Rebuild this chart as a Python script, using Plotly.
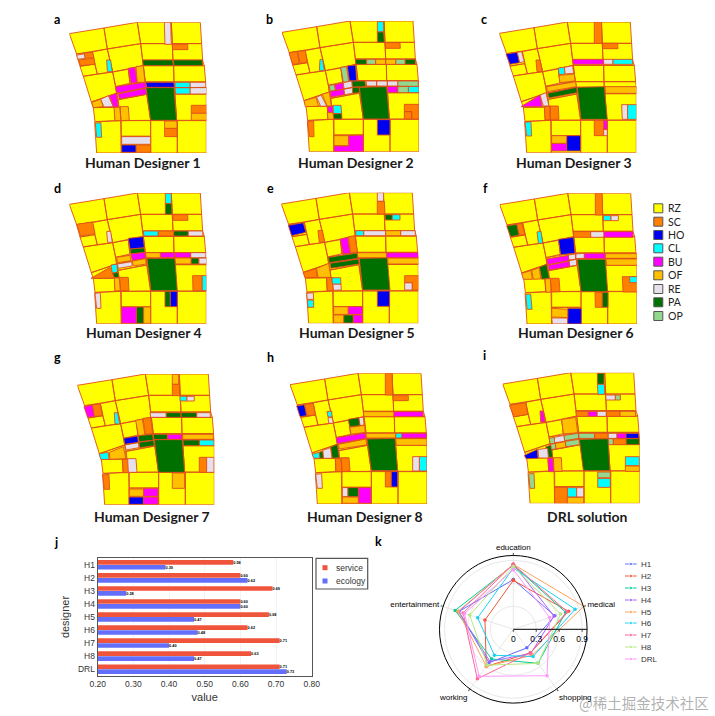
import plotly.graph_objects as go

W, H = 715, 716
LAND_CODES = ["RZ", "SC", "HO", "CL", "BU", "OF", "RE", "PA", "OP"]
LAND_COLORS = {"RZ": "#ffff00", "SC": "#ff8000", "HO": "#0000f0", "CL": "#00ffff", "BU": "#ff00ff",
               "OF": "#ffc000", "RE": "#e6e0ec", "PA": "#007000", "OP": "#92d88e"}
EDGE = "#de5018"

BASE_BLOCKS = [
    (36,67,140,50,150,113,58,128), (140,50,240,33,250,97,150,113), (240,33,342,33,345,97,250,97),
    (342,33,429,33,433,97,345,97), (250,97,345,97,347,147,256,147), (345,97,433,97,436,147,347,147),
    (256,147,347,147,349,163,258,163), (347,147,436,147,441,163,349,163), (258,163,349,163,350,212,264,212),
    (349,163,441,163,445,212,350,212), (264,212,350,212,351,229,267,229), (350,212,445,212,447,229,351,229),
    (351,229,447,229,447,248,353,248), (267,229,351,229,358,327,280,327), (353,248,447,248,447,327,358,327),
    (58,128,105,122,112,158,68,165), (68,165,112,158,120,188,78,195), (105,122,150,113,166,182,120,188),
    (150,113,250,97,258,163,166,182), (78,195,166,182,175,226,178,246,102,272), (166,182,213,174,218,216,175,226),
    (213,174,258,163,264,212,218,216), (175,226,264,212,267,229,178,246), (178,246,267,229,268,249,183,265),
    (102,272,178,246,183,288,108,289), (183,265,268,249,280,327,188,328), (108,289,172,288,174,328,113,331),
    (172,288,188,288,191,328,174,328), (112,332,190,328,192,425,118,425), (192,328,280,328,280,375,192,375),
    (192,375,280,375,280,425,192,425), (280,328,360,328,360,425,280,425), (360,328,447,328,447,425,360,425),
]
BASE_ORIGIN = (36, 33)

PATCHES_A = [
    ("RE",343,52,362,52,364,118,345,118), ("SC",367,118,413,118,414,134,368,134),
    ("PA",278,165,368,165,370,182,280,182), ("PA",370,165,457,165,458,182,372,182),
    ("RE",80,150,103,147,106,160,83,163), ("SC",103,145,128,142,132,158,106,160), ("SC",85,165,132,160,135,178,92,182),
    ("CL",170,165,182,165,187,200,172,200), ("BU",235,190,255,187,262,232,243,235), ("OF",258,185,280,182,285,232,262,232),
    ("BU",197,245,285,232,288,248,200,265), ("BU",205,267,287,250,290,268,208,282), ("HO",287,232,372,232,373,247,290,247),
    ("CL",375,232,420,232,420,248,375,248), ("RE",420,232,467,232,468,247,420,248), ("CL",375,248,420,248,420,267,377,267),
    ("RE",420,248,470,248,470,267,420,267), ("PA",288,248,372,248,380,346,302,346), ("OF",125,292,152,283,160,305,130,308),
    ("RE",152,283,175,272,190,305,162,306), ("BU",178,272,200,265,205,308,190,305), ("OF",192,308,210,306,213,347,195,347),
    ("OF",210,305,235,305,238,346,213,347), ("SC",424,301,470,301,470,325,424,325), ("OF",424,325,470,325,470,346,424,346),
    ("CL",136,355,153,353,155,397,140,397), ("OF",344,348,381,348,381,370,344,370), ("SC",344,370,381,370,381,395,344,395),
    ("RE",215,395,302,395,302,418,215,418), ("HO",215,420,258,420,258,442,215,442), ("SC",258,420,302,420,302,442,258,442),
]
PATCHES_B = [
    ("CL",322,35,341,35,341,66,322,66), ("PA",322,66,341,66,343,97,322,97), ("SC",345,98,390,98,391,115,347,115),
    ("PA",256,148,290,148,290,163,258,163), ("OP",290,148,317,148,317,163,290,163), ("OF",317,148,347,148,347,163,317,163),
    ("OF",347,148,377,148,377,163,347,163), ("OP",377,148,405,148,405,163,377,163), ("PA",405,148,436,148,436,163,405,163),
    ("SC",57,128,82,124,88,160,68,163), ("SC",82,124,106,122,112,157,90,160), ("CL",150,148,158,148,163,182,148,182),
    ("OP",212,172,230,170,236,215,220,217), ("HO",232,168,257,165,260,212,238,213), ("OP",178,226,194,224,196,242,180,244),
    ("BU",194,224,220,218,222,236,197,242), ("RE",220,218,245,213,247,232,222,236), ("PA",245,213,285,213,287,230,268,232,247,232),
    ("BU",180,244,222,238,224,254,183,262), ("RE",222,238,247,233,248,250,224,254), ("PA",247,232,268,230,268,248,248,250),
    ("RE",288,213,320,213,320,228,290,228), ("RE",320,213,352,213,352,228,320,228), ("RE",352,213,383,213,383,228,352,228),
    ("OP",383,213,445,213,445,229,383,229), ("BU",352,229,383,229,383,248,354,248), ("OP",383,229,415,229,415,248,383,248),
    ("CL",415,229,447,229,447,248,415,248), ("PA",268,232,350,230,358,327,280,327), ("OF",102,272,138,262,146,289,106,290),
    ("RE",140,262,153,255,170,288,152,289), ("OF",156,253,178,246,184,288,172,288), ("BU",172,290,188,288,189,307,174,307),
    ("OF",172,308,189,308,191,328,174,328), ("CL",189,286,213,286,215,311,190,311), ("PA",190,311,215,311,216,327,191,327),
    ("SC",403,283,447,283,447,327,425,327,425,305,403,305), ("SC",403,305,425,305,425,327,403,327),
    ("SC",113,335,131,333,132,380,118,380), ("HO",322,329,360,329,360,375,322,375), ("OF",192,377,236,377,236,407,192,407),
    ("BU",236,377,280,375,280,425,192,425,192,408,236,408),
]
PATCHES_C = [
    ("SC",328,36,350,36,351,100,328,100), ("SC",352,100,398,100,399,116,354,116), ("HO",63,132,97,127,104,158,75,163),
    ("RE",97,127,110,125,118,155,104,158), ("SC",153,150,165,150,172,185,156,185), ("BU",263,148,355,148,356,163,265,163),
    ("RE",356,148,384,148,384,163,356,163), ("CL",384,148,443,148,443,163,384,163), ("CL",220,174,238,172,240,192,222,194),
    ("RE",238,172,263,167,266,190,240,192), ("OF",222,196,268,192,270,213,225,218), ("OF",360,230,455,230,455,250,362,250),
    ("OF",185,230,272,215,274,230,188,245), ("PA",188,250,275,232,277,248,192,264), ("PA",277,232,358,230,367,328,288,328),
    ("BU",108,290,165,255,172,290), ("RE",165,255,183,248,192,288,175,288), ("SC",178,290,195,288,196,328,181,330),
    ("SC",195,288,220,288,222,328,196,328), ("RE",410,284,428,284,428,328,412,328), ("CL",428,284,455,284,455,328,428,328),
    ("CL",120,337,138,335,140,378,125,378), ("SC",328,331,356,331,356,377,328,377), ("BU",356,331,367,331,367,358,356,358),
    ("RE",356,358,367,358,367,377,356,377), ("OF",200,377,245,377,245,400,200,400), ("BU",200,400,245,400,245,423,200,423),
    ("HO",245,377,287,377,287,423,245,423),
]
PATCHES_D = [
    ("CL",331,40,349,40,349,71,331,71), ("PA",331,71,350,71,351,103,331,103), ("SC",353,104,398,104,399,121,355,121),
    ("SC",65,133,113,126,120,160,77,168), ("RE",155,155,167,153,172,187,158,187), ("CL",265,153,310,153,310,168,267,168),
    ("SC",310,153,356,153,356,168,310,168), ("PA",356,153,400,153,400,168,356,168), ("RE",400,153,443,153,444,168,400,168),
    ("HO",220,175,265,170,268,203,225,207), ("PA",225,207,268,203,270,217,228,222), ("BU",228,222,270,217,272,235,232,242),
    ("OF",272,218,316,218,316,233,274,233), ("BU",316,218,360,218,360,233,316,233), ("BU",360,218,407,218,407,233,360,233),
    ("RE",407,218,453,218,453,233,407,233), ("OF",360,234,408,234,408,252,362,252), ("PA",408,234,432,234,432,252,408,252),
    ("RE",432,234,455,234,455,252,432,252), ("PA",276,235,360,235,367,332,288,332), ("OF",185,232,225,226,228,242,188,248),
    ("OF",232,243,272,236,274,252,235,258), ("RE",187,252,230,245,232,258,190,265), ("CL",168,255,186,252,188,276,172,280),
    ("PA",172,280,190,277,192,292,178,293), ("SC",108,295,165,262,178,294), ("OF",178,294,193,294,196,332,180,333),
    ("SC",194,292,220,292,222,332,197,332), ("SC",413,287,441,287,441,332,414,332), ("CL",441,287,455,287,455,332,441,332),
    ("RE",120,340,136,338,138,385,125,385), ("PA",330,334,346,334,346,380,330,380), ("HO",346,334,367,334,367,380,346,380),
    ("BU",200,381,244,381,244,430,200,430), ("PA",244,381,266,381,266,430,244,430), ("OF",266,381,287,381,287,430,266,430),
]
PATCHES_E = [
    ("RE",322,38,341,38,341,64,322,64), ("SC",322,64,343,64,345,102,322,102), ("PA",345,104,367,104,367,120,346,120),
    ("CL",367,104,390,104,390,120,367,120), ("HO",55,136,100,128,108,157,65,167), ("SC",144,152,157,150,164,185,148,187),
    ("CL",257,152,281,152,281,167,258,167), ("RE",281,152,347,152,347,167,281,167), ("OF",347,152,392,152,392,167,347,167),
    ("RE",392,152,436,152,436,167,392,167), ("BU",211,177,233,172,241,220,219,222), ("SC",235,170,255,167,262,216,242,219),
    ("OF",262,218,350,218,350,233,264,233), ("BU",350,218,445,218,445,233,350,233), ("OF",353,234,447,234,447,252,354,252),
    ("PA",175,232,262,219,264,235,178,248), ("PA",180,250,265,237,268,252,183,265), ("PA",268,235,352,233,360,330,278,330),
    ("SC",100,277,138,266,142,292,105,293), ("OF",140,265,176,250,183,292,144,292), ("SC",170,293,186,293,190,331,172,333),
    ("CL",186,293,212,293,213,312,187,312), ("RE",188,312,213,312,214,330,190,331),
    ("SC",404,287,447,287,447,330,427,330,427,308,404,308), ("RE",404,308,427,308,427,330,404,330),
    ("RE",110,340,130,338,131,358,112,358), ("CL",112,360,131,360,131,382,114,382), ("HO",322,333,359,333,359,379,322,379),
    ("OF",191,380,235,380,235,403,191,403), ("BU",235,380,278,380,278,403,235,403), ("OF",191,405,221,405,221,429,191,429),
    ("PA",221,405,250,405,250,429,221,429), ("BU",250,405,278,405,278,429,250,429),
]
PATCHES_F = [
    ("SC",331,40,351,40,353,105,331,105), ("CL",355,107,378,107,378,122,355,122), ("RE",378,107,400,107,400,122,378,122),
    ("PA",65,138,95,133,102,166,77,170), ("SC",95,133,110,130,120,163,103,165), ("CL",156,156,168,154,173,190,160,190),
    ("SC",265,155,317,155,317,172,267,172), ("RE",317,155,357,155,357,172,317,172), ("BU",357,155,444,155,444,172,357,172),
    ("HO",220,178,266,172,270,220,227,224), ("RE",250,225,272,222,272,238,250,240), ("RE",272,222,298,220,298,235,272,236),
    ("BU",298,220,361,220,361,236,298,236), ("OF",361,221,456,221,456,235,361,235), ("OF",363,237,458,237,458,256,365,256),
    ("BU",185,237,250,226,252,242,188,254), ("BU",190,256,252,244,254,260,192,270), ("RE",252,242,274,238,275,256,254,259),
    ("PA",277,238,361,238,368,335,288,335), ("OF",110,280,138,272,142,298,115,298), ("OF",140,271,163,263,167,297,145,298),
    ("PA",163,262,185,253,193,295,170,298), ("OF",180,297,196,296,198,336,183,337), ("SC",196,295,222,295,225,335,199,336),
    ("SC",412,290,458,290,458,336,414,336), ("CL",434,290,458,290,458,308,434,308), ("CL",122,344,137,342,141,388,126,388),
    ("SC",330,337,352,337,352,382,331,382), ("PA",352,337,369,337,369,382,352,382), ("OF",200,385,248,388,248,413,200,411),
    ("HO",248,385,289,385,289,432,248,432), ("RE",200,414,248,414,248,432,202,432),
]
PATCHES_G = [
    ("OF",322,58,341,58,341,88,322,88), ("SC",322,88,343,88,344,122,322,122), ("CL",345,124,366,124,366,138,345,138),
    ("RE",366,124,388,124,388,138,366,138), ("BU",57,155,82,150,88,185,68,187), ("SC",82,150,106,147,112,182,88,185),
    ("CL",148,173,158,173,164,207,150,207), ("RE",255,173,304,173,304,187,257,187), ("PA",304,173,348,173,348,187,304,187),
    ("PA",348,173,395,173,395,187,348,187), ("RE",395,173,436,173,436,187,395,187), ("OF",212,196,232,192,240,240,220,242),
    ("SC",234,190,257,187,263,236,242,238), ("HO",176,250,218,243,220,262,180,268), ("RE",180,270,220,263,222,278,183,285),
    ("PA",220,242,263,238,265,256,222,260), ("PA",265,238,307,238,307,253,267,254), ("BU",307,238,351,238,351,253,307,253),
    ("OF",353,238,445,238,445,253,353,253), ("PA",222,262,266,256,268,272,224,278), ("PA",268,254,352,254,359,352,280,352),
    ("PA",354,255,403,255,403,272,355,272), ("CL",403,255,447,255,447,272,403,272), ("CL",102,296,130,292,132,313,108,314),
    ("OF",133,292,175,275,183,311,135,313), ("SC",172,313,190,313,192,353,175,353), ("RE",188,311,213,311,216,352,190,352),
    ("SC",403,307,425,307,425,352,403,352), ("RE",425,307,447,307,447,352,425,352), ("SC",113,360,132,358,134,403,118,403),
    ("OF",322,354,359,354,359,400,322,400), ("OF",193,402,236,402,236,424,193,424), ("BU",236,400,279,400,279,424,236,424),
    ("HO",192,426,235,426,235,448,192,448), ("BU",235,426,279,426,279,448,235,448),
]
PATCHES_H = [
    ("SC",316,55,336,55,338,120,316,120), ("SC",338,122,385,122,385,137,340,137), ("HO",50,153,73,149,80,182,60,185),
    ("SC",73,149,100,145,106,180,82,182), ("CL",141,170,155,168,156,186,144,186), ("RE",144,188,157,188,160,205,146,205),
    ("OF",250,170,342,170,342,185,252,185), ("BU",342,170,429,170,430,185,342,185), ("PA",205,193,236,188,240,212,209,215),
    ("RE",236,188,250,187,252,210,240,212), ("OF",209,217,254,211,256,232,213,238), ("OF",258,235,347,235,347,249,259,249),
    ("CL",347,235,366,235,366,249,347,249), ("BU",366,235,439,235,440,249,366,249), ("OF",347,251,441,251,441,271,349,271),
    ("BU",168,248,256,234,258,250,172,266), ("OF",175,268,258,252,260,270,178,282), ("PA",261,252,345,250,353,347,274,347),
    ("CL",96,298,118,292,120,310,102,310), ("PA",118,292,128,288,130,310,120,310), ("RE",128,286,152,278,156,310,130,310),
    ("PA",152,276,172,268,178,308,157,310), ("SC",166,310,183,310,186,350,168,350), ("SC",183,308,207,308,210,348,186,350),
    ("RE",398,305,418,305,418,348,398,348), ("CL",418,305,441,305,441,348,418,348), ("RE",107,358,125,356,127,400,112,400),
    ("SC",316,350,334,350,334,396,316,396), ("HO",334,350,353,350,353,396,334,396), ("RE",187,398,204,398,204,425,187,425),
    ("PA",204,398,235,398,235,425,204,425), ("BU",236,398,273,398,273,445,236,445), ("OF",187,426,235,426,235,445,187,445),
]
PATCHES_I = [
    ("PA",352,70,372,70,372,103,352,103), ("CL",352,103,373,103,374,133,354,133), ("RE",377,135,406,135,406,150,378,150),
    ("OP",406,135,421,135,421,150,406,150), ("SC",88,166,137,158,143,193,102,200), ("BU",180,183,190,183,195,216,182,216),
    ("SC",288,184,325,184,325,199,289,199), ("BU",325,184,351,184,351,199,325,199), ("RE",351,184,379,184,379,199,351,199),
    ("SC",379,184,420,184,420,199,379,199), ("OF",420,184,466,184,467,199,420,199), ("OF",245,208,287,202,293,248,250,252),
    ("OP",208,265,222,262,224,280,210,282), ("RE",222,262,252,256,254,274,224,278), ("OP",252,256,295,250,296,265,254,272),
    ("OP",296,250,344,250,344,265,297,265), ("SC",344,250,384,250,384,265,344,265), ("RE",384,250,411,250,411,265,384,265),
    ("BU",411,250,438,250,438,265,411,265), ("HO",438,250,476,250,477,265,438,265), ("OP",212,282,226,280,228,297,214,298),
    ("OF",226,280,256,275,257,292,228,296), ("OP",256,274,297,268,298,284,258,290), ("PA",298,268,384,266,390,362,310,362),
    ("OP",385,266,400,266,400,284,386,284), ("SC",400,266,438,266,438,284,400,284), ("PA",438,266,478,266,478,284,438,284),
    ("HO",133,316,172,298,174,325,138,326), ("RE",174,298,203,295,205,324,176,324), ("PA",197,290,214,285,218,322,206,322),
    ("BU",204,324,218,324,222,365,206,365), ("OF",220,323,244,323,246,364,222,364), ("CL",436,320,478,320,478,347,436,347),
    ("OF",436,348,478,348,478,364,436,364), ("OP",146,372,162,370,164,415,150,415), ("OP",353,366,391,366,391,383,353,383),
    ("CL",353,385,391,385,391,412,353,412), ("SC",224,412,262,412,262,460,224,460), ("CL",262,413,290,413,290,441,262,441),
    ("RE",290,413,311,413,311,441,290,441), ("OF",262,442,311,442,311,460,262,460),
]

PANELS = [
    ("a", "Human Designer 1", PATCHES_A, (58, 52), (69.3, 22.3), (143, 162), (57, 19)),
    ("b", "Human Designer 2", PATCHES_B, (36, 33), (282, 21), (356, 162), (269, 19)),
    ("c", "Human Designer 3", PATCHES_C, (43, 36), (499.3, 22), (574, 162), (484, 19)),
    ("d", "Human Designer 4", PATCHES_D, (43, 39), (69.3, 193), (144, 332), (57, 188)),
    ("e", "Human Designer 5", PATCHES_E, (34, 38), (281.3, 192.7), (357, 332), (270, 188)),
    ("f", "Human Designer 6", PATCHES_F, (44, 40), (499.7, 193.3), (576, 332), (485, 188)),
    ("g", "Human Designer 7", PATCHES_G, (37, 57), (77.3, 374), (152, 516), (57, 357)),
    ("h", "Human Designer 8", PATCHES_H, (30, 55), (290, 373.3), (365, 516), (270, 357)),
    ("i", "DRL solution", PATCHES_I, (68, 68), (502.7, 372.7), (587, 516), (484, 355)),
]

DESIGNERS = ["H1", "H2", "H3", "H4", "H5", "H6", "H7", "H8", "DRL"]
SERVICE = [0.58, 0.60, 0.69, 0.60, 0.68, 0.62, 0.71, 0.63, 0.71]
ECOLOGY = [0.39, 0.62, 0.28, 0.60, 0.47, 0.48, 0.40, 0.47, 0.73]

RADAR_AXES = ["education", "medical", "shopping", "working", "entertainment"]
RADAR_VALUES = {
    "H1": [0.65, 0.57, 0.30, 0.54, 0.75],
    "H2": [0.64, 0.76, 0.38, 0.60, 0.39],
    "H3": [0.84, 0.72, 0.55, 0.48, 0.80],
    "H4": [0.85, 0.56, 0.39, 0.52, 0.75],
    "H5": [0.85, 0.97, 0.42, 0.60, 0.76],
    "H6": [0.80, 0.85, 0.44, 0.42, 0.49],
    "H7": [0.85, 0.74, 0.38, 0.80, 0.69],
    "H8": [0.82, 0.65, 0.55, 0.58, 0.60],
    "DRL": [0.78, 0.50, 0.75, 0.76, 0.67],
}
RADAR_COLORS = ["#636EFA", "#EF553B", "#00CC96", "#AB63FA", "#FFA15A", "#19D3F3", "#FF6692", "#B6E880", "#FF97FF"]

PANEL_W, PANEL_H = 411, 392
SCALE = 1 / 3

fig = go.Figure()
layout = {}
annotations = []


def px_x(x):
    return x / W


def px_y(y):
    return 1 - y / H


def note(text, x, y, size, color="#000", family="Lato", bold=False, xanchor="center"):
    annotations.append(dict(text=f"<b>{text}</b>" if bold else text, x=px_x(x), y=px_y(y), xref="paper", yref="paper",
                            showarrow=False, xanchor=xanchor, yanchor="middle",
                            font=dict(size=size, color=color, family=family)))


def polygon_path(poly, origin):
    xs, ys = [], []
    pts = list(zip(poly[0::2], poly[1::2]))
    for px, py in pts + pts[:1]:
        xs.append(px - origin[0])
        ys.append(py - origin[1])
    xs.append(None)
    ys.append(None)
    return xs, ys


def add_fill(xs, ys, color, idx):
    fig.add_trace(go.Scatter(x=xs, y=ys, mode="lines", fill="toself", fillcolor=color,
                             line=dict(color=EDGE, width=0.9), hoverinfo="skip", showlegend=False,
                             xaxis="x" if idx == 1 else f"x{idx}", yaxis="y" if idx == 1 else f"y{idx}", cliponaxis=False))


hidden = dict(visible=False, showgrid=False, zeroline=False, fixedrange=True)
for i, (letter, title, patches, origin, pos, title_pos, letter_pos) in enumerate(PANELS, start=1):
    suffix = "" if i == 1 else str(i)
    layout["xaxis" + suffix] = dict(hidden, range=[0, PANEL_W], anchor="y" + suffix,
                                    domain=[px_x(pos[0]), px_x(pos[0] + PANEL_W * SCALE)])
    layout["yaxis" + suffix] = dict(hidden, range=[PANEL_H, 0], anchor="x" + suffix,
                                    domain=[px_y(pos[1] + PANEL_H * SCALE), px_y(pos[1])])
    bx, by = [], []
    for poly in BASE_BLOCKS:
        a, b = polygon_path(poly, BASE_ORIGIN)
        bx += a
        by += b
    add_fill(bx, by, LAND_COLORS["RZ"], i)
    order = []
    for p in patches:
        if p[0] not in order:
            order.append(p[0])
    for code in order:
        cx, cy = [], []
        for p in patches:
            if p[0] == code:
                a, b = polygon_path(p[1:], origin)
                cx += a
                cy += b
        add_fill(cx, cy, LAND_COLORS[code], i)
    note(title, title_pos[0], title_pos[1], 14, "#1a1a1a", "Lato", True)
    note(letter, letter_pos[0], letter_pos[1], 12.5, "#000", "Lato", True)

note("j", 56, 542, 12.5, "#000", "Lato", True)
note("k", 378, 541, 12.5, "#000", "Lato", True)

# bars (panel j)
BAR = 10
layout[f"xaxis{BAR}"] = dict(domain=[px_x(97.7), px_x(311.7)], range=[0.2, 0.8], dtick=0.1, tickformat=".2f",
                             anchor=f"y{BAR}", showline=True, mirror=True, linecolor="#555", linewidth=1.2,
                             showgrid=True, gridcolor="#f3f3f3", zeroline=False, ticks="",
                             tickfont=dict(size=8.5, family="Liberation Sans", color="#333"),
                             title=dict(text="value", standoff=5, font=dict(size=11, family="Liberation Sans", color="#333")))
layout[f"yaxis{BAR}"] = dict(domain=[px_y(675.7), px_y(558.3)], anchor=f"x{BAR}", autorange="reversed", type="category",
                             showline=True, mirror=True, linecolor="#555", linewidth=1.2, showgrid=False, ticks="",
                             tickfont=dict(size=8.5, family="Liberation Sans", color="#333"),
                             title=dict(text="designer", standoff=6, font=dict(size=11, family="Liberation Sans", color="#333")))
for name, vals, col in (("service", SERVICE, "#EF553B"), ("ecology", ECOLOGY, "#636EFA")):
    fig.add_trace(go.Bar(y=DESIGNERS, x=vals, name=name, orientation="h", marker=dict(color=col),
                         text=[f"<b>{v:.2f}</b>" for v in vals], textposition="outside", cliponaxis=False,
                         textfont=dict(size=5, family="Liberation Sans", color="#000"), showlegend=False,
                         xaxis=f"x{BAR}", yaxis=f"y{BAR}"))

# radar (panel k)
for (name, vals), col in zip(RADAR_VALUES.items(), RADAR_COLORS):
    fig.add_trace(go.Scatterpolar(r=vals + vals[:1], theta=RADAR_AXES + RADAR_AXES[:1], name=name, mode="lines+markers",
                                  line=dict(color=col, width=1), marker=dict(size=3.5, color=col), showlegend=False))
layout["polar"] = dict(
    domain=dict(x=[px_x(439.5), px_x(587.1)], y=[px_y(703.1), px_y(555.5)]),
    bgcolor="rgba(0,0,0,0)",
    radialaxis=dict(range=[0, 0.965], tickvals=[0, 0.3, 0.6, 0.9], ticktext=["0", "0.3", "0.6", "0.9"], angle=0,
                    showline=True, linecolor="#000", linewidth=1, gridcolor="#e8e8e8", ticks="outside", ticklen=2,
                    tickfont=dict(size=8.5, family="Liberation Sans", color="#000")),
    angularaxis=dict(rotation=90, direction="clockwise", categoryorder="array", categoryarray=RADAR_AXES,
                     showline=True, linecolor="#000", linewidth=1, gridcolor="#e8e8e8", ticks="outside", ticklen=2,
                     tickfont=dict(size=8, family="Liberation Sans", color="#000")),
)

# helper page axes for the hand-set keys
KEY = 11
layout[f"xaxis{KEY}"] = dict(hidden, range=[0, W], domain=[0, 1], anchor=f"y{KEY}")
layout[f"yaxis{KEY}"] = dict(hidden, range=[H, 0], domain=[0, 1], anchor=f"x{KEY}")

LAND_KEY_Y = [208.3, 221.7, 235, 248.3, 261.7, 275.3, 289, 302.3, 316]
for code, y in zip(LAND_CODES, LAND_KEY_Y):
    fig.add_trace(go.Scatter(x=[658.3], y=[y], mode="markers", showlegend=False, hoverinfo="skip",
                             marker=dict(symbol="square", size=9, color=LAND_COLORS[code], line=dict(color="#555", width=1)),
                             xaxis=f"x{KEY}", yaxis=f"y{KEY}"))
    note(code, 665.5, y, 10.5, "#222", "Lato", False, "left")

BAR_KEY = [("service", 567.7, "#EF553B"), ("ecology", 581, "#636EFA")]
for name, y, col in BAR_KEY:
    fig.add_trace(go.Scatter(x=[325], y=[y], mode="markers", showlegend=False, hoverinfo="skip",
                             marker=dict(symbol="square", size=5, color=col), xaxis=f"x{KEY}", yaxis=f"y{KEY}"))
    note(name, 334, y, 8.5, "#333", "Liberation Sans", False, "left")

RADAR_KEY_Y = [564, 576, 588, 600, 612, 623, 635, 647, 659]
for (name, _), col, y in zip(RADAR_VALUES.items(), RADAR_COLORS, RADAR_KEY_Y):
    fig.add_trace(go.Scatter(x=[625, 630.8, 636.7], y=[y, y, y], mode="lines+markers", showlegend=False, hoverinfo="skip",
                             line=dict(color=col, width=1), marker=dict(size=[0, 3.5, 0], color=col),
                             xaxis=f"x{KEY}", yaxis=f"y{KEY}"))
    note(name, 639, y, 8, "#333", "Liberation Sans", False, "left")

note("@稀土掘金技术社区", 644, 702, 14.5, "rgba(110,110,110,0.55)", "Noto Sans CJK SC")

shapes = [dict(type="rect", xref="paper", yref="paper", x0=px_x(316), x1=px_x(367.7), y0=px_y(589), y1=px_y(558.3),
               line=dict(color="#555", width=1.2), fillcolor="rgba(0,0,0,0)")]

fig.update_layout(width=W, height=H, margin=dict(l=0, r=0, t=0, b=0), paper_bgcolor="white", plot_bgcolor="rgba(0,0,0,0)",
                  template="none", showlegend=False, barmode="group", bargap=0.25, bargroupgap=0.05,
                  annotations=annotations, shapes=shapes, **layout)
fig.write_html("out.html", post_script="document.body.style.margin='0';", config={"displayModeBar": False})
